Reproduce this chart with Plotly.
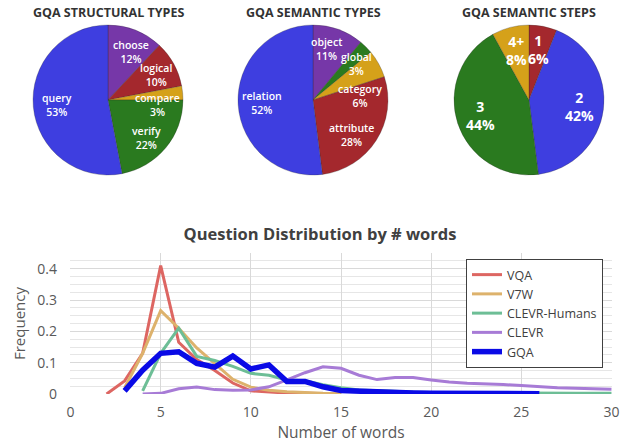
import math
import plotly.graph_objects as go

# ---------------- data ----------------
struct_labels = ["choose", "logical", "compare", "verify", "query"]
struct_values = [12, 10, 3, 22, 53]

sem_labels = ["object", "global", "category", "attribute", "relation"]
sem_values = [11, 3, 6, 28, 52]

step_labels = ["1", "2", "3", "4+"]
step_values = [6, 42, 44, 8]

vqa_x = list(range(2, 16))
vqa_y = [0.0, 0.042, 0.13, 0.41, 0.165, 0.11, 0.075, 0.035, 0.01, 0.006, 0.003, 0.002, 0.001, 0.0]

v7w_x = list(range(3, 16))
v7w_y = [0.02, 0.13, 0.266, 0.21, 0.147, 0.098, 0.047, 0.022, 0.012, 0.007, 0.004, 0.002, 0.001]

clevrh_x = list(range(4, 31))
clevrh_y = [0.01, 0.13, 0.21, 0.12, 0.107, 0.088, 0.066, 0.06, 0.045, 0.042, 0.03, 0.02, 0.013,
            0.01, 0.008, 0.006, 0.005, 0.004, 0.004, 0.003, 0.003, 0.003, 0.002, 0.002, 0.002,
            0.002, 0.002]

clevr_x = list(range(4, 31))
clevr_y = [0.0, 0.002, 0.017, 0.022, 0.014, 0.012, 0.013, 0.023, 0.045, 0.068, 0.087, 0.082,
           0.06, 0.046, 0.053, 0.053, 0.045, 0.038, 0.034, 0.033, 0.03, 0.027, 0.023, 0.02,
           0.018, 0.016, 0.015]

gqa_x = list(range(3, 27))
gqa_y = [0.01, 0.076, 0.13, 0.135, 0.098, 0.086, 0.121, 0.08, 0.093, 0.04, 0.04, 0.023, 0.011,
         0.008, 0.006, 0.004, 0.003, 0.002, 0.002, 0.001, 0.001, 0.001, 0.001, 0.001]

x_ticks = [0, 5, 10, 15, 20, 25, 30]
y_ticks = [0, 0.1, 0.2, 0.3, 0.4]

# ---------------- styles ----------------
W, H = 629, 446
FONT = "Open Sans"
BLUE, PURPLE, RED, GOLD, GREEN = "#3E3EE0", "#7637A8", "#A4282D", "#D5A11A", "#2A7A1F"
struct_colors = [PURPLE, RED, GOLD, GREEN, BLUE]
sem_colors = [PURPLE, GREEN, GOLD, RED, BLUE]
step_colors = [RED, BLUE, GREEN, GOLD]

pie_domains_px = [(33, 183), (238, 388), (454, 604)]
pie_top, pie_bottom = 25, 175
# label placement overrides for crowded slices (angle deg clockwise from top, radius fraction)
struct_overrides = {"choose": (25, 0.71), "logical": (63, 0.72), "compare": (96, 0.66),
                    "verify": (135, 0.72)}
sem_overrides = {"object": (15, 0.70), "global": (50, 0.75), "category": (85, 0.63),
                 "attribute": (132, 0.69)}

fig = go.Figure()

pie_specs = [
    ("GQA STRUCTURAL TYPES", struct_labels, struct_values, struct_colors, 10.5, False, struct_overrides),
    ("GQA SEMANTIC TYPES", sem_labels, sem_values, sem_colors, 10.5, False, sem_overrides),
    ("GQA SEMANTIC STEPS", step_labels, step_values, step_colors, 14, True, {}),
]

annotations = []
for (title, labels, values, colors, fsize, bold, overrides), (x0, x1) in zip(pie_specs, pie_domains_px):
    dom_x = [x0 / W, x1 / W]
    dom_y = [1 - pie_bottom / H, 1 - pie_top / H]
    fig.add_trace(go.Pie(
        labels=labels, values=values, sort=False, direction="clockwise", rotation=0,
        marker=dict(colors=colors, line=dict(color="rgba(40,40,40,0.45)", width=0.6)),
        textinfo="none", hoverinfo="label+percent", showlegend=False,
        domain=dict(x=dom_x, y=dom_y),
    ))
    annotations.append(dict(
        text=title, x=(x0 + x1) / 2 / W, y=1 - 13 / H, xref="paper", yref="paper",
        xanchor="center", yanchor="middle", showarrow=False,
        font=dict(family=FONT, size=12.5, color="#333333", weight="bold"),
    ))
    cx = (x0 + x1) / 2
    cy = (pie_top + pie_bottom) / 2
    R = min(x1 - x0, pie_bottom - pie_top) / 2
    total = sum(values)
    cum = 0
    for lab, v in zip(labels, values):
        ang, k = (cum + v / 2) / total * 360, 0.68
        if lab in overrides:
            ang, k = overrides[lab]
        cum += v
        a = math.radians(ang)
        px = cx + k * R * math.sin(a)
        py = cy - k * R * math.cos(a)
        annotations.append(dict(
            text=f"{lab}<br>{round(100 * v / total)}%", x=px / W, y=1 - py / H,
            xref="paper", yref="paper", xanchor="center", yanchor="middle", showarrow=False,
            font=dict(family=FONT, size=fsize, color="white", weight="bold" if bold else 600),
        ))

series = [
    ("VQA", vqa_x, vqa_y, "#DD6662", 3),
    ("V7W", v7w_x, v7w_y, "#DDB26C", 3),
    ("CLEVR-Humans", clevrh_x, clevrh_y, "#6DBE96", 3),
    ("CLEVR", clevr_x, clevr_y, "#A77BD6", 3),
    ("GQA", gqa_x, gqa_y, "#0A0AE6", 5.5),
]
for name, xs, ys, col, w in series:
    fig.add_trace(go.Scatter(x=xs, y=ys, name=name, mode="lines",
                             line=dict(color=col, width=w), xaxis="x", yaxis="y"))

grid = "#D9D9D9"
fig.update_layout(
    width=W, height=H, autosize=False,
    margin=dict(l=0, r=0, t=0, b=0),
    paper_bgcolor="white", plot_bgcolor="white",
    font=dict(family=FONT, color="#595959"),
    title=dict(text="Question Distribution by # words", x=320 / W, xanchor="center",
               y=1 - 234 / H, yanchor="middle", yref="container", automargin=False,
               font=dict(family=FONT, size=16.5, color="#404040", weight="bold")),
    xaxis=dict(domain=[70 / W, 612 / W], range=[-0.03, 30.03], tickvals=x_ticks,
               showgrid=True, gridcolor=grid, gridwidth=1, zeroline=False, showline=False,
               automargin=False,
               tickfont=dict(size=14, color="#595959"), ticklabelstandoff=8,
               title=dict(text="Number of words", font=dict(size=15.5, color="#595959"), standoff=2)),
    yaxis=dict(domain=[1 - 394 / H, 1 - 253 / H], range=[0, 0.4503], tickvals=y_ticks,
               showgrid=True, gridcolor=grid, gridwidth=1, zeroline=False, showline=False,
               automargin=False,
               minor=dict(dtick=0.025, tick0=0, showgrid=True, gridcolor="#E6E6E6", gridwidth=1),
               tickfont=dict(size=14, color="#595959"), ticklabelstandoff=12,
               title=dict(text="Frequency", font=dict(size=15, color="#595959"), standoff=8)),
    legend=dict(x=603 / W, y=1 - 259 / H, xanchor="right", yanchor="top",
                bgcolor="white", bordercolor="#404040", borderwidth=1,
                font=dict(family=FONT, size=12.5, color="#404040"),
                itemwidth=30, tracegroupgap=0),
    annotations=annotations,
)

fig.write_html("out.html", config={"displayModeBar": False},
               post_script="document.body.style.margin='0';document.body.style.overflow='hidden';")
